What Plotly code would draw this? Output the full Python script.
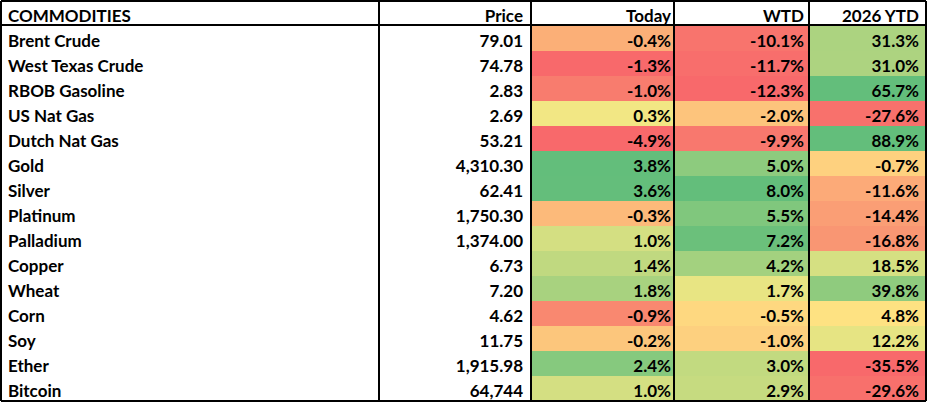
import plotly.graph_objects as go

W, H = 927, 403

headers = ["COMMODITIES", "Price", "Today", "WTD", "2026 YTD"]
commodities = ["Brent Crude", "West Texas Crude", "RBOB Gasoline", "US Nat Gas", "Dutch Nat Gas",
               "Gold", "Silver", "Platinum", "Palladium", "Copper", "Wheat", "Corn", "Soy",
               "Ether", "Bitcoin"]
prices = ["79.01", "74.78", "2.83", "2.69", "53.21", "4,310.30", "62.41", "1,750.30", "1,374.00",
          "6.73", "7.20", "4.62", "11.75", "1,915.98", "64,744"]
today = [-0.4, -1.3, -1.0, 0.3, -4.9, 3.8, 3.6, -0.3, 1.0, 1.4, 1.8, -0.9, -0.2, 2.4, 1.0]
wtd = [-10.1, -11.7, -12.3, -2.0, -9.9, 5.0, 8.0, 5.5, 7.2, 4.2, 1.7, -0.5, -1.0, 3.0, 2.9]
ytd = [31.3, 31.0, 65.7, -27.6, 88.9, -0.7, -11.6, -14.4, -16.8, 18.5, 39.8, 4.8, 12.2, -35.5, -29.6]

# cell fill colours (conditional-format style)
today_col = ["#FBAF77", "#F8696B", "#F87C6E", "#F2E784", "#F8696B", "#63BE7B", "#64BE7B", "#FCBA7A",
             "#D4DF82", "#C0D980", "#A8D27F", "#F98870", "#FCC67C", "#86C97E", "#D4DF82"]
wtd_col = ["#F8746D", "#F86E6C", "#F8696B", "#FDC47C", "#F8786E", "#8DCB7E", "#63BE7B", "#80C77D",
           "#6BC07B", "#A3D17F", "#E8E583", "#FED880", "#FDD07F", "#C2DA80", "#C6DB80"]
ytd_col = ["#ACD380", "#ADD380", "#63BE7B", "#F8716C", "#63BE7B", "#FED17F", "#FCAA78", "#FA9E75",
           "#F99673", "#D5E082", "#8FCB7E", "#FEE282", "#E6E483", "#F8696B", "#F8706C"]

NB = "\u00a0"


def nb(s):
    return s.replace(" ", NB)


def pct(v):
    return [f"{x:.1f}%" for x in v]


n = len(commodities)
white = ["white"] * n
fills = [white, white, today_col, wtd_col, ytd_col]
empty = [[""] * n for _ in range(5)]

# fill table column widths (px): boundaries at 1, 379, 531, 674, 809, 926
fill_cols = [378, 152, 143, 135, 117]
# text table column widths (px) chosen so text padding matches
text_cols = [379, 152, 148, 133, 115]

font = dict(family="Lato, 'Open Sans', sans-serif", size=17, color="black", weight="bold")
aligns = ["left", "right", "right", "right", "right"]

fill_table = go.Table(
    domain=dict(x=[1 / W, 926 / W], y=[0, 1 - 1 / H]),
    columnwidth=fill_cols,
    header=dict(values=[""] * 5, height=25, fill_color="white",
                line=dict(color="white", width=0), font=font),
    cells=dict(values=empty, height=25, fill_color=fills,
               line=dict(color=fills, width=0), font=font),
)

text_table = go.Table(
    domain=dict(x=[0, 1], y=[0, 1 - 1 / H]),
    columnwidth=text_cols,
    header=dict(values=[nb(h) for h in headers], align=aligns, height=25,
                fill_color="rgba(0,0,0,0)", line=dict(color="rgba(0,0,0,0)", width=0), font=font),
    cells=dict(values=[[nb(c) for c in commodities], prices, pct(today), pct(wtd), pct(ytd)],
               align=aligns, height=25,
               fill_color="rgba(0,0,0,0)", line=dict(color="rgba(0,0,0,0)", width=0), font=font),
)

fig = go.Figure([fill_table, text_table])

shapes = []


def px_line(x0, y0, x1, y1, w=2):
    shapes.append(dict(type="line", xref="paper", yref="paper",
                       x0=x0 / W, x1=x1 / W, y0=1 - y0 / H, y1=1 - y1 / H,
                       line=dict(color="black", width=w)))


# outer border
px_line(1, 1, 926, 1)
px_line(1, 401, 926, 401)
px_line(1, 1, 1, 401)
px_line(926, 1, 926, 401)
# column separators
for xv in [379, 531, 674, 809]:
    px_line(xv, 1, xv, 401)
# header bottom
px_line(1, 25, 926, 25)

fig.update_layout(width=W, height=H, margin=dict(l=0, r=0, t=0, b=0),
                  paper_bgcolor="white", shapes=shapes)

fig.write_html("out.html", config={"displayModeBar": False},
               post_script="document.body.style.margin='0';document.body.style.overflow='hidden';")
